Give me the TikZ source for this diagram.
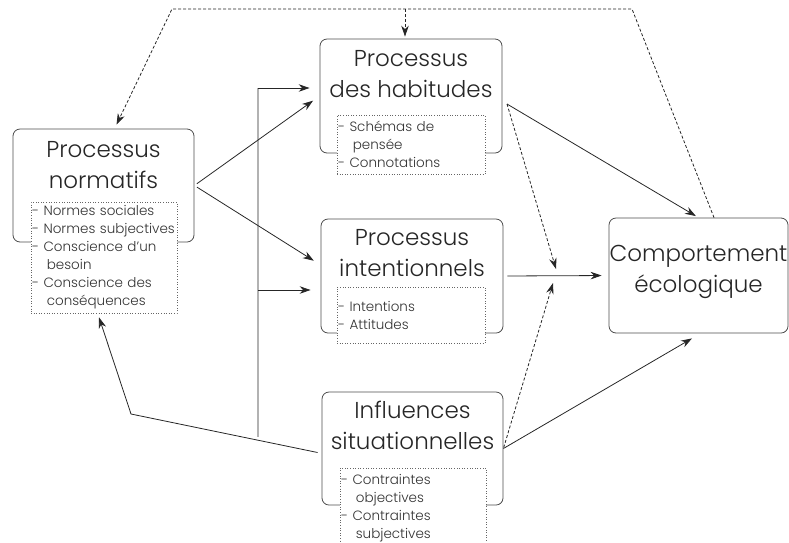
\documentclass[tikz,border=0pt]{standalone}
\usepackage{fontspec}
\setmainfont{Poppins}[UprightFont={* Light}]
\usetikzlibrary{arrows.meta}

\newcommand{\grandtexte}{\fontsize{23}{31}\selectfont}
\newcommand{\petittexte}{\fontsize{13.5}{18}\selectfont}
\newcommand{\suite}{\hspace*{1.1em}}

\begin{document}
\begin{tikzpicture}[x=1pt, y=-1pt,
  boite/.style={draw=black!70, line width=0.8pt, rounded corners=7pt,
    minimum width=181pt, minimum height=113pt},
  titre/.style={font=\grandtexte, align=center, text=black!85, inner sep=0pt},
  liste/.style={draw=black!60, dotted, line width=0.6pt, fill=white,
    font=\petittexte, align=left, text=black!80, inner sep=1pt},
  fleche/.style={line width=0.8pt, draw=black!85, -{Stealth[length=11pt,width=7.5pt]}},
  tirets/.style={fleche, dash pattern=on 3pt off 2pt}]
\useasboundingbox (0,0) rectangle (789,542);

\node[boite] (norm) at (103.5,185.5) {};
\node[titre] (norm-t) at (103.5,165) {Processus\\normatifs};
\node[liste, text width=144pt, minimum height=111pt] (norm-l) at (104,257.5)
  {- Normes sociales\\- Normes subjectives\\- Conscience d'un\\\suite besoin\\- Conscience des\\\suite conséquences};

\node[boite, minimum width=182pt, minimum height=114pt] (hab) at (411,96) {};
\node[titre] (hab-t) at (411,74) {Processus\\des habitudes};
\node[liste, text width=146pt, minimum height=59pt] (hab-l) at (411,144.5)
  {- Schémas de\\\suite pensée\\- Connotations};

\node[boite, minimum width=182pt, minimum height=114pt] (int) at (412,276) {};
\node[titre] (int-t) at (412,253) {Processus\\intentionnels};
\node[liste, text width=146pt, minimum height=56pt] (int-l) at (411,315)
  {- Intentions\\- Attitudes};

\node[boite] (infl) at (412.5,448.5) {};
\node[titre] (infl-t) at (412.5,425) {Influences\\situationnelles};
\node[liste, text width=144pt, minimum height=80pt] (infl-l) at (413,508)
  {- Contraintes\\\suite objectives\\- Contraintes\\\suite subjectives};

\node[boite, minimum width=179pt, minimum height=115pt] (comp) at (698.5,275.5) {};
\node[titre] (comp-t) at (698.5,272) {Comportement\\écologique};

\coordinate (haut-g) at (172,9);
\coordinate (haut-d) at (632,9);
\coordinate (haut-m) at (405,9);
\coordinate (coude) at (131,414);
\coordinate (bus-h) at (258,88);
\coordinate (bus-m) at (258,290);
\coordinate (jh) at (556,269);
\coordinate (jb) at (553,283);
\coordinate (hab-s) at (507,104);

\draw[fleche, shorten <=3pt, shorten >=8pt] (norm.east) -- (hab.west);
\draw[fleche, shorten <=3pt, shorten >=8pt] (norm.east) -- ([yshift=11pt]int.west);

\draw[line width=0.8pt, draw=black!85] (intersection of coude--infl.west and bus-h--bus-m) -- (bus-h);
\draw[fleche, shorten >=10pt] (bus-h) -- (bus-h -| hab.west);
\draw[fleche, shorten >=10pt] (bus-m) -- (bus-m -| int.west);
\draw[fleche] ([shift={(-4pt,-4pt)}]infl.west) -- (coude) -- ([xshift=-5pt, yshift=-4pt]norm-l.south);

\draw[fleche, shorten >=3pt] (hab-s) -- (comp.north);
\draw[tirets] (hab-s) -- (jh);
\draw[fleche, shorten <=4pt, shorten >=7pt] (int.east) -- (comp.west);
\draw[tirets, shorten <=1pt] (infl.east) -- (jb);
\draw[fleche] (infl.east) -- ([xshift=-6.5pt, yshift=-5pt]comp.south);

\draw[tirets] ([xshift=15.5pt]comp.north) -- (haut-d) -- (haut-g) -- ([xshift=13pt, yshift=4pt]norm.north);
\draw[tirets, shorten >=2pt] (haut-m) -- (haut-m |- hab.north);
\end{tikzpicture}
\end{document}
